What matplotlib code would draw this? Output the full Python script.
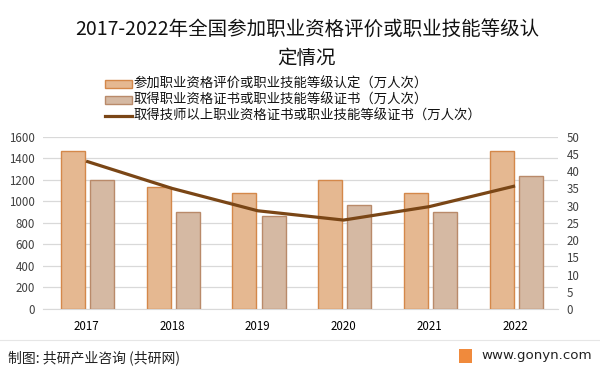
import numpy as np
import matplotlib
matplotlib.use("Agg")
import matplotlib.pyplot as plt
from matplotlib.patches import Rectangle

plt.rcParams['font.family'] = ['Noto Sans CJK SC', 'DejaVu Sans']

years = ['2017', '2018', '2019', '2020', '2021', '2022']
appraised = [1465, 1130, 1075, 1195, 1075, 1465]      # 参加评价认定（万人次）
certified = [1195, 898, 864, 963, 898, 1232]           # 取得证书（万人次）
technician = [42.9, 35.0, 28.5, 25.8, 29.7, 35.7]      # 技师以上（万人次）

labels = ['参加职业资格评价或职业技能等级认定（万人次）',
          '取得职业资格证书或职业技能等级证书（万人次）',
          '取得技师以上职业资格证书或职业技能等级证书（万人次）']

c_org, e_org = '#E5B891', '#D4884A'
c_gry, e_gry = '#D5B9A3', '#B98A6A'
c_line = '#7A4616'

H = 373.0
W = 600.0

fig = plt.figure(figsize=(6, 3.73), dpi=100)
ax = fig.add_axes([0.072, 0.1716, 0.858, 0.462])
ax2 = ax.twinx()

x = np.arange(len(years))
w = 0.28
ax.bar(x - 0.155, appraised, w, color=c_org, edgecolor=e_org, linewidth=1, zorder=3)
ax.bar(x + 0.185, certified, w, color=c_gry, edgecolor=e_gry, linewidth=1, zorder=3)
ax2.plot(x, technician, color=c_line, linewidth=2.3, solid_capstyle='butt',
         solid_joinstyle='round', zorder=4)

ax.set_xlim(-0.5, len(years) - 0.5)
ax.set_ylim(0, 1600)
ax.set_yticks(range(0, 1601, 200))
ax2.set_ylim(0, 50)
ax2.set_yticks(range(0, 51, 5))
ax.set_xticks(x)
ax.set_xticklabels(years)
ax.yaxis.grid(True, color='#D9D9D9', linewidth=0.9, zorder=0)
ax.set_axisbelow(True)
for a in (ax, ax2):
    for s in a.spines.values():
        s.set_visible(False)
    a.tick_params(length=0, labelsize=8.3, colors='#404040')
ax.tick_params(axis='x', pad=8, colors='#000000')
ax.tick_params(axis='y', pad=6)
ax2.tick_params(axis='y', pad=6)
ax.spines['bottom'].set_visible(True)
ax.spines['bottom'].set_color('#D9D9D9')

# title
fig.text(307 / W, 1 - 29 / H, '2017-2022年全国参加职业资格评价或职业技能等级认', ha='center',
         va='center', fontsize=14, color='#111111')
fig.text(307 / W, 1 - 58 / H, '定情况', ha='center', va='center', fontsize=14,
         color='#111111')

# legend
ly = [84, 100, 116]
for i, lab in enumerate(labels):
    yy = 1 - ly[i] / H
    if i < 2:
        fc, ec = (c_org, e_org) if i == 0 else (c_gry, e_gry)
        fig.patches.append(Rectangle((105 / W, yy - 4 / H), 27 / W, 8 / H,
                                     transform=fig.transFigure, facecolor=fc,
                                     edgecolor=ec, linewidth=1))
    else:
        fig.lines.append(plt.Line2D([105 / W, 132 / W], [yy, yy],
                                    transform=fig.transFigure, color=c_line,
                                    linewidth=2.3))
    fig.text(134 / W, yy, lab, ha='left', va='center', fontsize=9.6, color='#111111')

# footer
fig.lines.append(plt.Line2D([0.0, 1.0], [1 - 340 / H] * 2,
                            transform=fig.transFigure, color='#E6E6E6', linewidth=0.8))
fig.text(8 / W, 1 - 358 / H, '制图: 共研产业咨询 (共研网)', ha='left', va='center',
         fontsize=10, color='#222222')
fig.patches.append(Rectangle((459 / W, 1 - 363 / H), 13 / W, 14 / H,
                             transform=fig.transFigure, facecolor='#F08A3C',
                             edgecolor='none'))
fig.text(592 / W, 1 - 356 / H, 'www.gonyn.com', ha='right', va='center',
         fontsize=9.6, color='#222222', family=['DejaVu Sans'])

fig.savefig('out.png', dpi=100)
